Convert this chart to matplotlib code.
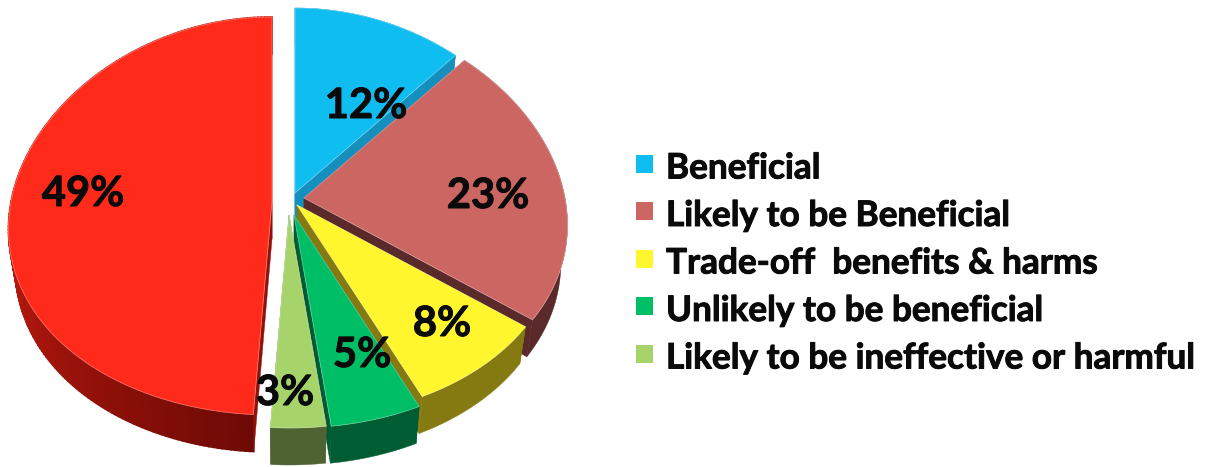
import numpy as np
import matplotlib
matplotlib.use("Agg")
import matplotlib.pyplot as plt
import matplotlib.patheffects as pe
from matplotlib.patches import Polygon, Rectangle

# Share of treatments per evidence category
categories = ["Beneficial", "Likely to be Beneficial", "Trade-off  benefits & harms",
              "Unlikely to be beneficial", "Likely to be ineffective or harmful"]
legend_shares = [12, 23, 8, 5, 3]
unknown_share = [49]
values = legend_shares + unknown_share

# Styling per slice, clockwise from twelve o'clock
top_colors = ["#0FBDF0", "#CB6662", "#FFF62E", "#00BE65", "#A6D46B", "#FF2A1A"]
wall_colors = ["#1590BE", "#5A2A2A", "#857A12", "#005C32", "#4F6232", "#8E120A"]
apexes = [(295, 193), (304, 198), (297, 205), (294, 215), (289, 215), (272, 202)]
label_xy = [(366, 106), (488, 196), (442, 324), (362, 355), (285, 393), (83, 194)]

A, K, B_MID, B_VAR = 261, 0.14, 199, 14
DEPTH, RIM_SHRINK = 37, 0.975
FONT = ["Lato", "Open Sans", "DejaVu Sans"]
HEAVY = [pe.withStroke(linewidth=0.7, foreground="#0A0A0A")]


def offset(theta):
    """Screen offset of a rim point on the tilted, perspective-narrowed disc."""
    s, c = np.sin(theta), np.cos(theta)
    return A * (1 - K * c) * s, -c * (B_MID - B_VAR * c)


def rim(apex, theta):
    dx, dy = offset(theta)
    return np.column_stack([apex[0] + dx, apex[1] + dy])


def lower(apex, theta):
    dx, dy = offset(theta)
    return np.column_stack([apex[0] + RIM_SHRINK * dx, apex[1] + dy + DEPTH])


def blend(c0, c1, frac):
    a, b = np.array(matplotlib.colors.to_rgb(c0)), np.array(matplotlib.colors.to_rgb(c1))
    return tuple(a * (1 - frac) + b * frac)


fig = plt.figure(figsize=(12.05, 4.67), dpi=100, facecolor="white")
ax = fig.add_axes([0, 0, 1, 1])
ax.set_xlim(0, 1205)
ax.set_ylim(467, 0)
ax.axis("off")

edges = np.radians(np.cumsum([0] + values) * 3.6)

# Painter's order: slices are stacked clockwise so later ones cover earlier walls
for i, value in enumerate(values):
    t0, t1 = edges[i], edges[i + 1]
    apex = apexes[i]
    thetas = np.linspace(t0, t1, max(int(value * 4), 8))
    is_red = i == len(values) - 1
    up, low = rim(apex, thetas), lower(apex, thetas)

    if is_red:
        # the large slice's wall fades from mid red into maroon towards the front
        for j in range(len(thetas) - 2, -1, -1):
            frac = min((thetas[j] - t0) / (np.radians(270) - t0), 1)
            color = blend("#6E0A05", "#C81C10", frac)
            ax.add_patch(Polygon([up[j], up[j + 1], low[j + 1], low[j]], closed=True,
                                 fc=color, ec=color, lw=1.2))
    else:
        ax.add_patch(Polygon(np.vstack([up, low[::-1]]), closed=True,
                             fc=wall_colors[i], ec=wall_colors[i], lw=0.3))

    # cut faces on both sides of the slice
    for t in (t0, t1):
        end_up, end_low = rim(apex, np.array([t]))[0], lower(apex, np.array([t]))[0]
        base = (apex[0], apex[1] + DEPTH)
        ax.add_patch(Polygon([apex, end_up, end_low, base], closed=True,
                             fc=wall_colors[i], ec=wall_colors[i], lw=0.3))

    # top face with its faint highlight along the outline
    ax.add_patch(Polygon(np.vstack([[apex], up]), closed=True, fc=top_colors[i],
                         ec=top_colors[i], lw=0.3))
    ax.plot(*np.vstack([[apex], up, [apex]]).T, color="white", lw=0.6, alpha=0.35,
            solid_joinstyle="round")

# Percentage labels on the slices
for value, (x, y) in zip(values, label_xy):
    ax.text(x, y, f"{value}%", ha="center", va="center", fontsize=30,
            fontweight="bold", family=FONT, color="#0A0A0A", path_effects=HEAVY)

# Legend: square swatch followed by the category name
LEG_X, LEG_Y0, LEG_STEP, SWATCH = 636, 163.5, 47.5, 18
for i, name in enumerate(categories):
    yc = LEG_Y0 + i * LEG_STEP
    ax.add_patch(Rectangle((LEG_X, yc - SWATCH / 2), SWATCH - 1, SWATCH,
                           fc=top_colors[i], ec="none"))
    ax.text(LEG_X + 30, yc + 5, name, ha="left", va="center", fontsize=25.3,
            fontweight="bold", family=FONT, color="#0A0A0A", path_effects=HEAVY)

fig.savefig("out.png", dpi=100, facecolor="white")
